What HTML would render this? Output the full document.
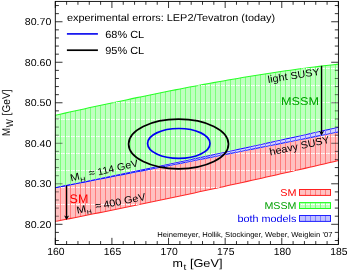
<!DOCTYPE html>
<html><head><meta charset="utf-8"><title>MW-mt</title>
<style>html,body{margin:0;padding:0;background:#fff;overflow:hidden}svg{display:block;will-change:transform}text{font-family:"Liberation Sans",sans-serif;text-rendering:geometricPrecision}</style></head><body>
<svg width="348" height="271" viewBox="0 0 348 271">
<rect width="348" height="271" fill="#fff"/>
<defs>
<clipPath id="cg"><polygon points="55.30,115.25 60.10,114.19 64.90,113.13 69.69,112.07 74.49,111.01 79.29,109.96 84.09,108.91 88.89,107.86 93.69,106.82 98.48,105.78 103.28,104.75 108.08,103.71 112.88,102.69 117.68,101.67 122.48,100.65 127.27,99.64 132.07,98.63 136.87,97.63 141.67,96.64 146.47,95.65 151.27,94.67 156.06,93.69 160.86,92.73 165.66,91.77 170.46,90.81 175.26,89.87 180.06,88.93 184.85,88.00 189.65,87.08 194.45,86.17 199.25,85.27 204.05,84.38 208.85,83.49 213.64,82.62 218.44,81.76 223.24,80.90 228.04,80.06 232.84,79.23 237.64,78.41 242.43,77.60 247.23,76.80 252.03,76.01 256.83,75.24 261.63,74.47 266.43,73.72 271.22,72.99 276.02,72.26 280.82,71.55 285.62,70.85 290.42,70.17 295.22,69.50 300.01,68.84 304.81,68.20 309.61,67.58 314.41,66.97 319.21,66.37 324.01,65.79 328.80,65.22 333.60,64.68 338.40,64.14 338.40,132.40 333.60,133.37 328.80,134.33 324.01,135.29 319.21,136.25 314.41,137.22 309.61,138.18 304.81,139.14 300.01,140.10 295.22,141.06 290.42,142.01 285.62,142.97 280.82,143.93 276.02,144.89 271.22,145.84 266.43,146.80 261.63,147.75 256.83,148.71 252.03,149.66 247.23,150.61 242.43,151.57 237.64,152.52 232.84,153.47 228.04,154.42 223.24,155.37 218.44,156.32 213.64,157.27 208.85,158.22 204.05,159.17 199.25,160.11 194.45,161.06 189.65,162.01 184.85,162.95 180.06,163.90 175.26,164.84 170.46,165.78 165.66,166.73 160.86,167.67 156.06,168.61 151.27,169.55 146.47,170.49 141.67,171.43 136.87,172.37 132.07,173.31 127.27,174.25 122.48,175.19 117.68,176.12 112.88,177.06 108.08,178.00 103.28,178.93 98.48,179.87 93.69,180.80 88.89,181.73 84.09,182.67 79.29,183.60 74.49,184.53 69.69,185.46 64.90,186.39 60.10,187.32 55.30,188.25"/></clipPath>
<clipPath id="cr"><polygon points="55.30,187.27 60.10,186.30 64.90,185.33 69.69,184.35 74.49,183.38 79.29,182.40 84.09,181.42 88.89,180.43 93.69,179.45 98.48,178.46 103.28,177.48 108.08,176.49 112.88,175.50 117.68,174.50 122.48,173.51 127.27,172.51 132.07,171.51 136.87,170.51 141.67,169.51 146.47,168.51 151.27,167.50 156.06,166.49 160.86,165.48 165.66,164.47 170.46,163.46 175.26,162.45 180.06,161.43 184.85,160.41 189.65,159.39 194.45,158.37 199.25,157.35 204.05,156.32 208.85,155.29 213.64,154.27 218.44,153.23 223.24,152.20 228.04,151.17 232.84,150.13 237.64,149.09 242.43,148.05 247.23,147.01 252.03,145.97 256.83,144.92 261.63,143.88 266.43,142.83 271.22,141.78 276.02,140.73 280.82,139.67 285.62,138.62 290.42,137.56 295.22,136.50 300.01,135.44 304.81,134.38 309.61,133.31 314.41,132.24 319.21,131.18 324.01,130.11 328.80,129.03 333.60,127.96 338.40,126.88 338.40,160.59 333.60,161.71 328.80,162.83 324.01,163.95 319.21,165.06 314.41,166.17 309.61,167.28 304.81,168.38 300.01,169.48 295.22,170.58 290.42,171.67 285.62,172.76 280.82,173.85 276.02,174.93 271.22,176.01 266.43,177.09 261.63,178.17 256.83,179.24 252.03,180.31 247.23,181.37 242.43,182.44 237.64,183.50 232.84,184.55 228.04,185.61 223.24,186.66 218.44,187.70 213.64,188.75 208.85,189.79 204.05,190.83 199.25,191.86 194.45,192.89 189.65,193.92 184.85,194.95 180.06,195.97 175.26,196.99 170.46,198.01 165.66,199.02 160.86,200.03 156.06,201.04 151.27,202.04 146.47,203.04 141.67,204.04 136.87,205.03 132.07,206.02 127.27,207.01 122.48,208.00 117.68,208.98 112.88,209.96 108.08,210.93 103.28,211.91 98.48,212.88 93.69,213.84 88.89,214.81 84.09,215.77 79.29,216.72 74.49,217.68 69.69,218.63 64.90,219.58 60.10,220.52 55.30,221.46"/></clipPath>
<clipPath id="cb"><polygon points="55.30,187.27 60.10,186.30 64.90,185.33 69.69,184.35 74.49,183.38 79.29,182.40 84.09,181.42 88.89,180.43 93.69,179.45 98.48,178.46 103.28,177.48 108.08,176.49 112.88,175.50 117.68,174.50 122.48,173.51 127.27,172.51 132.07,171.51 136.87,170.51 141.67,169.51 146.47,168.51 151.27,167.50 156.06,166.49 160.86,165.48 165.66,164.47 170.46,163.46 175.26,162.45 180.06,161.43 184.85,160.41 189.65,159.39 194.45,158.37 199.25,157.35 204.05,156.32 208.85,155.29 213.64,154.27 218.44,153.23 223.24,152.20 228.04,151.17 232.84,150.13 237.64,149.09 242.43,148.05 247.23,147.01 252.03,145.97 256.83,144.92 261.63,143.88 266.43,142.83 271.22,141.78 276.02,140.73 280.82,139.67 285.62,138.62 290.42,137.56 295.22,136.50 300.01,135.44 304.81,134.38 309.61,133.31 314.41,132.24 319.21,131.18 324.01,130.11 328.80,129.03 333.60,127.96 338.40,126.88 338.40,132.40 333.60,133.37 328.80,134.33 324.01,135.29 319.21,136.25 314.41,137.22 309.61,138.18 304.81,139.14 300.01,140.10 295.22,141.06 290.42,142.01 285.62,142.97 280.82,143.93 276.02,144.89 271.22,145.84 266.43,146.80 261.63,147.75 256.83,148.71 252.03,149.66 247.23,150.61 242.43,151.57 237.64,152.52 232.84,153.47 228.04,154.42 223.24,155.37 218.44,156.32 213.64,157.27 208.85,158.22 204.05,159.17 199.25,160.11 194.45,161.06 189.65,162.01 184.85,162.95 180.06,163.90 175.26,164.84 170.46,165.78 165.66,166.73 160.86,167.67 156.06,168.61 151.27,169.55 146.47,170.49 141.67,171.43 136.87,172.37 132.07,173.31 127.27,174.25 122.48,175.19 117.68,176.12 112.88,177.06 108.08,178.00 103.28,178.93 98.48,179.87 93.69,180.80 88.89,181.73 84.09,182.67 79.29,183.60 74.49,184.53 69.69,185.46 64.90,186.39 60.10,187.32 55.30,188.25"/></clipPath>
</defs>
<polygon points="55.30,115.25 60.10,114.19 64.90,113.13 69.69,112.07 74.49,111.01 79.29,109.96 84.09,108.91 88.89,107.86 93.69,106.82 98.48,105.78 103.28,104.75 108.08,103.71 112.88,102.69 117.68,101.67 122.48,100.65 127.27,99.64 132.07,98.63 136.87,97.63 141.67,96.64 146.47,95.65 151.27,94.67 156.06,93.69 160.86,92.73 165.66,91.77 170.46,90.81 175.26,89.87 180.06,88.93 184.85,88.00 189.65,87.08 194.45,86.17 199.25,85.27 204.05,84.38 208.85,83.49 213.64,82.62 218.44,81.76 223.24,80.90 228.04,80.06 232.84,79.23 237.64,78.41 242.43,77.60 247.23,76.80 252.03,76.01 256.83,75.24 261.63,74.47 266.43,73.72 271.22,72.99 276.02,72.26 280.82,71.55 285.62,70.85 290.42,70.17 295.22,69.50 300.01,68.84 304.81,68.20 309.61,67.58 314.41,66.97 319.21,66.37 324.01,65.79 328.80,65.22 333.60,64.68 338.40,64.14 338.40,132.40 333.60,133.37 328.80,134.33 324.01,135.29 319.21,136.25 314.41,137.22 309.61,138.18 304.81,139.14 300.01,140.10 295.22,141.06 290.42,142.01 285.62,142.97 280.82,143.93 276.02,144.89 271.22,145.84 266.43,146.80 261.63,147.75 256.83,148.71 252.03,149.66 247.23,150.61 242.43,151.57 237.64,152.52 232.84,153.47 228.04,154.42 223.24,155.37 218.44,156.32 213.64,157.27 208.85,158.22 204.05,159.17 199.25,160.11 194.45,161.06 189.65,162.01 184.85,162.95 180.06,163.90 175.26,164.84 170.46,165.78 165.66,166.73 160.86,167.67 156.06,168.61 151.27,169.55 146.47,170.49 141.67,171.43 136.87,172.37 132.07,173.31 127.27,174.25 122.48,175.19 117.68,176.12 112.88,177.06 108.08,178.00 103.28,178.93 98.48,179.87 93.69,180.80 88.89,181.73 84.09,182.67 79.29,183.60 74.49,184.53 69.69,185.46 64.90,186.39 60.10,187.32 55.30,188.25" fill="#c0ffc0"/>
<g clip-path="url(#cg)" stroke="#7cff7c" stroke-width="1.0"><line x1="55.50" y1="60" x2="55.50" y2="192"/><line x1="60.50" y1="60" x2="60.50" y2="192"/><line x1="65.50" y1="60" x2="65.50" y2="192"/><line x1="70.50" y1="60" x2="70.50" y2="192"/><line x1="75.50" y1="60" x2="75.50" y2="192"/><line x1="80.50" y1="60" x2="80.50" y2="192"/><line x1="85.50" y1="60" x2="85.50" y2="192"/><line x1="90.50" y1="60" x2="90.50" y2="192"/><line x1="95.50" y1="60" x2="95.50" y2="192"/><line x1="100.50" y1="60" x2="100.50" y2="192"/><line x1="105.50" y1="60" x2="105.50" y2="192"/><line x1="110.50" y1="60" x2="110.50" y2="192"/><line x1="115.50" y1="60" x2="115.50" y2="192"/><line x1="120.50" y1="60" x2="120.50" y2="192"/><line x1="125.50" y1="60" x2="125.50" y2="192"/><line x1="130.50" y1="60" x2="130.50" y2="192"/><line x1="135.50" y1="60" x2="135.50" y2="192"/><line x1="140.50" y1="60" x2="140.50" y2="192"/><line x1="145.50" y1="60" x2="145.50" y2="192"/><line x1="150.50" y1="60" x2="150.50" y2="192"/><line x1="155.50" y1="60" x2="155.50" y2="192"/><line x1="160.50" y1="60" x2="160.50" y2="192"/><line x1="165.50" y1="60" x2="165.50" y2="192"/><line x1="170.50" y1="60" x2="170.50" y2="192"/><line x1="175.50" y1="60" x2="175.50" y2="192"/><line x1="180.50" y1="60" x2="180.50" y2="192"/><line x1="185.50" y1="60" x2="185.50" y2="192"/><line x1="190.50" y1="60" x2="190.50" y2="192"/><line x1="195.50" y1="60" x2="195.50" y2="192"/><line x1="200.50" y1="60" x2="200.50" y2="192"/><line x1="205.50" y1="60" x2="205.50" y2="192"/><line x1="210.50" y1="60" x2="210.50" y2="192"/><line x1="215.50" y1="60" x2="215.50" y2="192"/><line x1="220.50" y1="60" x2="220.50" y2="192"/><line x1="225.50" y1="60" x2="225.50" y2="192"/><line x1="230.50" y1="60" x2="230.50" y2="192"/><line x1="235.50" y1="60" x2="235.50" y2="192"/><line x1="240.50" y1="60" x2="240.50" y2="192"/><line x1="245.50" y1="60" x2="245.50" y2="192"/><line x1="250.50" y1="60" x2="250.50" y2="192"/><line x1="255.50" y1="60" x2="255.50" y2="192"/><line x1="260.50" y1="60" x2="260.50" y2="192"/><line x1="265.50" y1="60" x2="265.50" y2="192"/><line x1="270.50" y1="60" x2="270.50" y2="192"/><line x1="275.50" y1="60" x2="275.50" y2="192"/><line x1="280.50" y1="60" x2="280.50" y2="192"/><line x1="285.50" y1="60" x2="285.50" y2="192"/><line x1="290.50" y1="60" x2="290.50" y2="192"/><line x1="295.50" y1="60" x2="295.50" y2="192"/><line x1="300.50" y1="60" x2="300.50" y2="192"/><line x1="305.50" y1="60" x2="305.50" y2="192"/><line x1="310.50" y1="60" x2="310.50" y2="192"/><line x1="315.50" y1="60" x2="315.50" y2="192"/><line x1="320.50" y1="60" x2="320.50" y2="192"/><line x1="325.50" y1="60" x2="325.50" y2="192"/><line x1="330.50" y1="60" x2="330.50" y2="192"/><line x1="335.50" y1="60" x2="335.50" y2="192"/></g>
<polyline points="55.30,115.25 60.10,114.19 64.90,113.13 69.69,112.07 74.49,111.01 79.29,109.96 84.09,108.91 88.89,107.86 93.69,106.82 98.48,105.78 103.28,104.75 108.08,103.71 112.88,102.69 117.68,101.67 122.48,100.65 127.27,99.64 132.07,98.63 136.87,97.63 141.67,96.64 146.47,95.65 151.27,94.67 156.06,93.69 160.86,92.73 165.66,91.77 170.46,90.81 175.26,89.87 180.06,88.93 184.85,88.00 189.65,87.08 194.45,86.17 199.25,85.27 204.05,84.38 208.85,83.49 213.64,82.62 218.44,81.76 223.24,80.90 228.04,80.06 232.84,79.23 237.64,78.41 242.43,77.60 247.23,76.80 252.03,76.01 256.83,75.24 261.63,74.47 266.43,73.72 271.22,72.99 276.02,72.26 280.82,71.55 285.62,70.85 290.42,70.17 295.22,69.50 300.01,68.84 304.81,68.20 309.61,67.58 314.41,66.97 319.21,66.37 324.01,65.79 328.80,65.22 333.60,64.68 338.40,64.14" fill="none" stroke="#28ff28" stroke-width="1.05"/>
<polygon points="55.30,187.27 60.10,186.30 64.90,185.33 69.69,184.35 74.49,183.38 79.29,182.40 84.09,181.42 88.89,180.43 93.69,179.45 98.48,178.46 103.28,177.48 108.08,176.49 112.88,175.50 117.68,174.50 122.48,173.51 127.27,172.51 132.07,171.51 136.87,170.51 141.67,169.51 146.47,168.51 151.27,167.50 156.06,166.49 160.86,165.48 165.66,164.47 170.46,163.46 175.26,162.45 180.06,161.43 184.85,160.41 189.65,159.39 194.45,158.37 199.25,157.35 204.05,156.32 208.85,155.29 213.64,154.27 218.44,153.23 223.24,152.20 228.04,151.17 232.84,150.13 237.64,149.09 242.43,148.05 247.23,147.01 252.03,145.97 256.83,144.92 261.63,143.88 266.43,142.83 271.22,141.78 276.02,140.73 280.82,139.67 285.62,138.62 290.42,137.56 295.22,136.50 300.01,135.44 304.81,134.38 309.61,133.31 314.41,132.24 319.21,131.18 324.01,130.11 328.80,129.03 333.60,127.96 338.40,126.88 338.40,160.59 333.60,161.71 328.80,162.83 324.01,163.95 319.21,165.06 314.41,166.17 309.61,167.28 304.81,168.38 300.01,169.48 295.22,170.58 290.42,171.67 285.62,172.76 280.82,173.85 276.02,174.93 271.22,176.01 266.43,177.09 261.63,178.17 256.83,179.24 252.03,180.31 247.23,181.37 242.43,182.44 237.64,183.50 232.84,184.55 228.04,185.61 223.24,186.66 218.44,187.70 213.64,188.75 208.85,189.79 204.05,190.83 199.25,191.86 194.45,192.89 189.65,193.92 184.85,194.95 180.06,195.97 175.26,196.99 170.46,198.01 165.66,199.02 160.86,200.03 156.06,201.04 151.27,202.04 146.47,203.04 141.67,204.04 136.87,205.03 132.07,206.02 127.27,207.01 122.48,208.00 117.68,208.98 112.88,209.96 108.08,210.93 103.28,211.91 98.48,212.88 93.69,213.84 88.89,214.81 84.09,215.77 79.29,216.72 74.49,217.68 69.69,218.63 64.90,219.58 60.10,220.52 55.30,221.46" fill="#ffc0c0"/>
<g clip-path="url(#cr)" stroke="#ff7c7c" stroke-width="1.0"><line x1="55.50" y1="125" x2="55.50" y2="224"/><line x1="60.50" y1="125" x2="60.50" y2="224"/><line x1="65.50" y1="125" x2="65.50" y2="224"/><line x1="70.50" y1="125" x2="70.50" y2="224"/><line x1="75.50" y1="125" x2="75.50" y2="224"/><line x1="80.50" y1="125" x2="80.50" y2="224"/><line x1="85.50" y1="125" x2="85.50" y2="224"/><line x1="90.50" y1="125" x2="90.50" y2="224"/><line x1="95.50" y1="125" x2="95.50" y2="224"/><line x1="100.50" y1="125" x2="100.50" y2="224"/><line x1="105.50" y1="125" x2="105.50" y2="224"/><line x1="110.50" y1="125" x2="110.50" y2="224"/><line x1="115.50" y1="125" x2="115.50" y2="224"/><line x1="120.50" y1="125" x2="120.50" y2="224"/><line x1="125.50" y1="125" x2="125.50" y2="224"/><line x1="130.50" y1="125" x2="130.50" y2="224"/><line x1="135.50" y1="125" x2="135.50" y2="224"/><line x1="140.50" y1="125" x2="140.50" y2="224"/><line x1="145.50" y1="125" x2="145.50" y2="224"/><line x1="150.50" y1="125" x2="150.50" y2="224"/><line x1="155.50" y1="125" x2="155.50" y2="224"/><line x1="160.50" y1="125" x2="160.50" y2="224"/><line x1="165.50" y1="125" x2="165.50" y2="224"/><line x1="170.50" y1="125" x2="170.50" y2="224"/><line x1="175.50" y1="125" x2="175.50" y2="224"/><line x1="180.50" y1="125" x2="180.50" y2="224"/><line x1="185.50" y1="125" x2="185.50" y2="224"/><line x1="190.50" y1="125" x2="190.50" y2="224"/><line x1="195.50" y1="125" x2="195.50" y2="224"/><line x1="200.50" y1="125" x2="200.50" y2="224"/><line x1="205.50" y1="125" x2="205.50" y2="224"/><line x1="210.50" y1="125" x2="210.50" y2="224"/><line x1="215.50" y1="125" x2="215.50" y2="224"/><line x1="220.50" y1="125" x2="220.50" y2="224"/><line x1="225.50" y1="125" x2="225.50" y2="224"/><line x1="230.50" y1="125" x2="230.50" y2="224"/><line x1="235.50" y1="125" x2="235.50" y2="224"/><line x1="240.50" y1="125" x2="240.50" y2="224"/><line x1="245.50" y1="125" x2="245.50" y2="224"/><line x1="250.50" y1="125" x2="250.50" y2="224"/><line x1="255.50" y1="125" x2="255.50" y2="224"/><line x1="260.50" y1="125" x2="260.50" y2="224"/><line x1="265.50" y1="125" x2="265.50" y2="224"/><line x1="270.50" y1="125" x2="270.50" y2="224"/><line x1="275.50" y1="125" x2="275.50" y2="224"/><line x1="280.50" y1="125" x2="280.50" y2="224"/><line x1="285.50" y1="125" x2="285.50" y2="224"/><line x1="290.50" y1="125" x2="290.50" y2="224"/><line x1="295.50" y1="125" x2="295.50" y2="224"/><line x1="300.50" y1="125" x2="300.50" y2="224"/><line x1="305.50" y1="125" x2="305.50" y2="224"/><line x1="310.50" y1="125" x2="310.50" y2="224"/><line x1="315.50" y1="125" x2="315.50" y2="224"/><line x1="320.50" y1="125" x2="320.50" y2="224"/><line x1="325.50" y1="125" x2="325.50" y2="224"/><line x1="330.50" y1="125" x2="330.50" y2="224"/><line x1="335.50" y1="125" x2="335.50" y2="224"/></g>
<polyline points="55.30,221.46 60.10,220.52 64.90,219.58 69.69,218.63 74.49,217.68 79.29,216.72 84.09,215.77 88.89,214.81 93.69,213.84 98.48,212.88 103.28,211.91 108.08,210.93 112.88,209.96 117.68,208.98 122.48,208.00 127.27,207.01 132.07,206.02 136.87,205.03 141.67,204.04 146.47,203.04 151.27,202.04 156.06,201.04 160.86,200.03 165.66,199.02 170.46,198.01 175.26,196.99 180.06,195.97 184.85,194.95 189.65,193.92 194.45,192.89 199.25,191.86 204.05,190.83 208.85,189.79 213.64,188.75 218.44,187.70 223.24,186.66 228.04,185.61 232.84,184.55 237.64,183.50 242.43,182.44 247.23,181.37 252.03,180.31 256.83,179.24 261.63,178.17 266.43,177.09 271.22,176.01 276.02,174.93 280.82,173.85 285.62,172.76 290.42,171.67 295.22,170.58 300.01,169.48 304.81,168.38 309.61,167.28 314.41,166.17 319.21,165.06 324.01,163.95 328.80,162.83 333.60,161.71 338.40,160.59" fill="none" stroke="#ff2828" stroke-width="1.05"/>
<g clip-path="url(#cg)" stroke="#fff" stroke-width="1" stroke-dasharray="1.3 0.3 2.1 1.3">
<line x1="56" y1="68.5" x2="338.4" y2="68.5"/>
<line x1="56" y1="85.5" x2="338.4" y2="85.5"/>
<line x1="56" y1="102.5" x2="338.4" y2="102.5"/>
<line x1="56" y1="119.5" x2="338.4" y2="119.5"/>
<line x1="56" y1="136.5" x2="338.4" y2="136.5"/>
<line x1="56" y1="153.5" x2="338.4" y2="153.5"/>
<line x1="56" y1="170.5" x2="338.4" y2="170.5"/>
<line x1="56" y1="187.5" x2="338.4" y2="187.5"/>
</g>
<g clip-path="url(#cr)" stroke="#fff" stroke-width="1" stroke-dasharray="1.3 0.3 2.1 1.3">
<line x1="56" y1="119.5" x2="338.4" y2="119.5"/>
<line x1="56" y1="136.5" x2="338.4" y2="136.5"/>
<line x1="56" y1="153.5" x2="338.4" y2="153.5"/>
<line x1="56" y1="170.5" x2="338.4" y2="170.5"/>
<line x1="56" y1="187.5" x2="338.4" y2="187.5"/>
<line x1="56" y1="204.5" x2="338.4" y2="204.5"/>
<line x1="56" y1="221.5" x2="338.4" y2="221.5"/>
</g>
<polygon points="55.30,187.27 60.10,186.30 64.90,185.33 69.69,184.35 74.49,183.38 79.29,182.40 84.09,181.42 88.89,180.43 93.69,179.45 98.48,178.46 103.28,177.48 108.08,176.49 112.88,175.50 117.68,174.50 122.48,173.51 127.27,172.51 132.07,171.51 136.87,170.51 141.67,169.51 146.47,168.51 151.27,167.50 156.06,166.49 160.86,165.48 165.66,164.47 170.46,163.46 175.26,162.45 180.06,161.43 184.85,160.41 189.65,159.39 194.45,158.37 199.25,157.35 204.05,156.32 208.85,155.29 213.64,154.27 218.44,153.23 223.24,152.20 228.04,151.17 232.84,150.13 237.64,149.09 242.43,148.05 247.23,147.01 252.03,145.97 256.83,144.92 261.63,143.88 266.43,142.83 271.22,141.78 276.02,140.73 280.82,139.67 285.62,138.62 290.42,137.56 295.22,136.50 300.01,135.44 304.81,134.38 309.61,133.31 314.41,132.24 319.21,131.18 324.01,130.11 328.80,129.03 333.60,127.96 338.40,126.88 338.40,132.40 333.60,133.37 328.80,134.33 324.01,135.29 319.21,136.25 314.41,137.22 309.61,138.18 304.81,139.14 300.01,140.10 295.22,141.06 290.42,142.01 285.62,142.97 280.82,143.93 276.02,144.89 271.22,145.84 266.43,146.80 261.63,147.75 256.83,148.71 252.03,149.66 247.23,150.61 242.43,151.57 237.64,152.52 232.84,153.47 228.04,154.42 223.24,155.37 218.44,156.32 213.64,157.27 208.85,158.22 204.05,159.17 199.25,160.11 194.45,161.06 189.65,162.01 184.85,162.95 180.06,163.90 175.26,164.84 170.46,165.78 165.66,166.73 160.86,167.67 156.06,168.61 151.27,169.55 146.47,170.49 141.67,171.43 136.87,172.37 132.07,173.31 127.27,174.25 122.48,175.19 117.68,176.12 112.88,177.06 108.08,178.00 103.28,178.93 98.48,179.87 93.69,180.80 88.89,181.73 84.09,182.67 79.29,183.60 74.49,184.53 69.69,185.46 64.90,186.39 60.10,187.32 55.30,188.25" fill="#d4d4ff"/>
<g clip-path="url(#cb)"><polyline points="55.30,187.27 60.10,186.30 64.90,185.33 69.69,184.35 74.49,183.38 79.29,182.40 84.09,181.42 88.89,180.43 93.69,179.45 98.48,178.46 103.28,177.48 108.08,176.49 112.88,175.50 117.68,174.50 122.48,173.51 127.27,172.51 132.07,171.51 136.87,170.51 141.67,169.51 146.47,168.51 151.27,167.50 156.06,166.49 160.86,165.48 165.66,164.47 170.46,163.46 175.26,162.45 180.06,161.43 184.85,160.41 189.65,159.39 194.45,158.37 199.25,157.35 204.05,156.32 208.85,155.29 213.64,154.27 218.44,153.23 223.24,152.20 228.04,151.17 232.84,150.13 237.64,149.09 242.43,148.05 247.23,147.01 252.03,145.97 256.83,144.92 261.63,143.88 266.43,142.83 271.22,141.78 276.02,140.73 280.82,139.67 285.62,138.62 290.42,137.56 295.22,136.50 300.01,135.44 304.81,134.38 309.61,133.31 314.41,132.24 319.21,131.18 324.01,130.11 328.80,129.03 333.60,127.96 338.40,126.88" fill="none" stroke="#1010ff" stroke-width="1.8"/>
<polyline points="55.30,188.25 60.10,187.32 64.90,186.39 69.69,185.46 74.49,184.53 79.29,183.60 84.09,182.67 88.89,181.73 93.69,180.80 98.48,179.87 103.28,178.93 108.08,178.00 112.88,177.06 117.68,176.12 122.48,175.19 127.27,174.25 132.07,173.31 136.87,172.37 141.67,171.43 146.47,170.49 151.27,169.55 156.06,168.61 160.86,167.67 165.66,166.73 170.46,165.78 175.26,164.84 180.06,163.90 184.85,162.95 189.65,162.01 194.45,161.06 199.25,160.11 204.05,159.17 208.85,158.22 213.64,157.27 218.44,156.32 223.24,155.37 228.04,154.42 232.84,153.47 237.64,152.52 242.43,151.57 247.23,150.61 252.03,149.66 256.83,148.71 261.63,147.75 266.43,146.80 271.22,145.84 276.02,144.89 280.82,143.93 285.62,142.97 290.42,142.01 295.22,141.06 300.01,140.10 304.81,139.14 309.61,138.18 314.41,137.22 319.21,136.25 324.01,135.29 328.80,134.33 333.60,133.37 338.40,132.40" fill="none" stroke="#1010ff" stroke-width="1.8"/></g>
<g clip-path="url(#cb)" stroke="#7878ff" stroke-width="1.0"><line x1="55.50" y1="120" x2="55.50" y2="192"/><line x1="60.50" y1="120" x2="60.50" y2="192"/><line x1="65.50" y1="120" x2="65.50" y2="192"/><line x1="70.50" y1="120" x2="70.50" y2="192"/><line x1="75.50" y1="120" x2="75.50" y2="192"/><line x1="80.50" y1="120" x2="80.50" y2="192"/><line x1="85.50" y1="120" x2="85.50" y2="192"/><line x1="90.50" y1="120" x2="90.50" y2="192"/><line x1="95.50" y1="120" x2="95.50" y2="192"/><line x1="100.50" y1="120" x2="100.50" y2="192"/><line x1="105.50" y1="120" x2="105.50" y2="192"/><line x1="110.50" y1="120" x2="110.50" y2="192"/><line x1="115.50" y1="120" x2="115.50" y2="192"/><line x1="120.50" y1="120" x2="120.50" y2="192"/><line x1="125.50" y1="120" x2="125.50" y2="192"/><line x1="130.50" y1="120" x2="130.50" y2="192"/><line x1="135.50" y1="120" x2="135.50" y2="192"/><line x1="140.50" y1="120" x2="140.50" y2="192"/><line x1="145.50" y1="120" x2="145.50" y2="192"/><line x1="150.50" y1="120" x2="150.50" y2="192"/><line x1="155.50" y1="120" x2="155.50" y2="192"/><line x1="160.50" y1="120" x2="160.50" y2="192"/><line x1="165.50" y1="120" x2="165.50" y2="192"/><line x1="170.50" y1="120" x2="170.50" y2="192"/><line x1="175.50" y1="120" x2="175.50" y2="192"/><line x1="180.50" y1="120" x2="180.50" y2="192"/><line x1="185.50" y1="120" x2="185.50" y2="192"/><line x1="190.50" y1="120" x2="190.50" y2="192"/><line x1="195.50" y1="120" x2="195.50" y2="192"/><line x1="200.50" y1="120" x2="200.50" y2="192"/><line x1="205.50" y1="120" x2="205.50" y2="192"/><line x1="210.50" y1="120" x2="210.50" y2="192"/><line x1="215.50" y1="120" x2="215.50" y2="192"/><line x1="220.50" y1="120" x2="220.50" y2="192"/><line x1="225.50" y1="120" x2="225.50" y2="192"/><line x1="230.50" y1="120" x2="230.50" y2="192"/><line x1="235.50" y1="120" x2="235.50" y2="192"/><line x1="240.50" y1="120" x2="240.50" y2="192"/><line x1="245.50" y1="120" x2="245.50" y2="192"/><line x1="250.50" y1="120" x2="250.50" y2="192"/><line x1="255.50" y1="120" x2="255.50" y2="192"/><line x1="260.50" y1="120" x2="260.50" y2="192"/><line x1="265.50" y1="120" x2="265.50" y2="192"/><line x1="270.50" y1="120" x2="270.50" y2="192"/><line x1="275.50" y1="120" x2="275.50" y2="192"/><line x1="280.50" y1="120" x2="280.50" y2="192"/><line x1="285.50" y1="120" x2="285.50" y2="192"/><line x1="290.50" y1="120" x2="290.50" y2="192"/><line x1="295.50" y1="120" x2="295.50" y2="192"/><line x1="300.50" y1="120" x2="300.50" y2="192"/><line x1="305.50" y1="120" x2="305.50" y2="192"/><line x1="310.50" y1="120" x2="310.50" y2="192"/><line x1="315.50" y1="120" x2="315.50" y2="192"/><line x1="320.50" y1="120" x2="320.50" y2="192"/><line x1="325.50" y1="120" x2="325.50" y2="192"/><line x1="330.50" y1="120" x2="330.50" y2="192"/><line x1="335.50" y1="120" x2="335.50" y2="192"/></g>
<ellipse cx="178.55" cy="144.0" rx="49.95" ry="24.9" fill="none" stroke="#000" stroke-width="1.7"/>
<ellipse cx="178.8" cy="143.45" rx="31.2" ry="14.95" fill="none" stroke="#0000f4" stroke-width="1.7"/>
<line x1="66.6" y1="185.6" x2="66.6" y2="217.4" stroke="#000" stroke-width="1.3"/><polygon points="64.1,215.5 66.6,216.70000000000002 69.1,215.5 66.6,219.9" fill="#000"/>
<line x1="321.6" y1="65.8" x2="321.6" y2="133.0" stroke="#000" stroke-width="1.3"/><polygon points="319.1,131.1 321.6,132.3 324.1,131.1 321.6,135.5" fill="#000"/>
<rect x="55.3" y="1.4" width="283.09999999999997" height="243.04999999999998" fill="none" stroke="#000" stroke-width="0.9"/>
<g stroke="#000" stroke-width="0.8"><line x1="55.30" y1="244.45" x2="55.30" y2="237.85"/><line x1="55.30" y1="1.4" x2="55.30" y2="8.0"/><line x1="66.62" y1="244.45" x2="66.62" y2="241.04999999999998"/><line x1="66.62" y1="1.4" x2="66.62" y2="4.8"/><line x1="77.95" y1="244.45" x2="77.95" y2="241.04999999999998"/><line x1="77.95" y1="1.4" x2="77.95" y2="4.8"/><line x1="89.27" y1="244.45" x2="89.27" y2="241.04999999999998"/><line x1="89.27" y1="1.4" x2="89.27" y2="4.8"/><line x1="100.60" y1="244.45" x2="100.60" y2="241.04999999999998"/><line x1="100.60" y1="1.4" x2="100.60" y2="4.8"/><line x1="111.92" y1="244.45" x2="111.92" y2="237.85"/><line x1="111.92" y1="1.4" x2="111.92" y2="8.0"/><line x1="123.24" y1="244.45" x2="123.24" y2="241.04999999999998"/><line x1="123.24" y1="1.4" x2="123.24" y2="4.8"/><line x1="134.57" y1="244.45" x2="134.57" y2="241.04999999999998"/><line x1="134.57" y1="1.4" x2="134.57" y2="4.8"/><line x1="145.89" y1="244.45" x2="145.89" y2="241.04999999999998"/><line x1="145.89" y1="1.4" x2="145.89" y2="4.8"/><line x1="157.22" y1="244.45" x2="157.22" y2="241.04999999999998"/><line x1="157.22" y1="1.4" x2="157.22" y2="4.8"/><line x1="168.54" y1="244.45" x2="168.54" y2="237.85"/><line x1="168.54" y1="1.4" x2="168.54" y2="8.0"/><line x1="179.86" y1="244.45" x2="179.86" y2="241.04999999999998"/><line x1="179.86" y1="1.4" x2="179.86" y2="4.8"/><line x1="191.19" y1="244.45" x2="191.19" y2="241.04999999999998"/><line x1="191.19" y1="1.4" x2="191.19" y2="4.8"/><line x1="202.51" y1="244.45" x2="202.51" y2="241.04999999999998"/><line x1="202.51" y1="1.4" x2="202.51" y2="4.8"/><line x1="213.84" y1="244.45" x2="213.84" y2="241.04999999999998"/><line x1="213.84" y1="1.4" x2="213.84" y2="4.8"/><line x1="225.16" y1="244.45" x2="225.16" y2="237.85"/><line x1="225.16" y1="1.4" x2="225.16" y2="8.0"/><line x1="236.48" y1="244.45" x2="236.48" y2="241.04999999999998"/><line x1="236.48" y1="1.4" x2="236.48" y2="4.8"/><line x1="247.81" y1="244.45" x2="247.81" y2="241.04999999999998"/><line x1="247.81" y1="1.4" x2="247.81" y2="4.8"/><line x1="259.13" y1="244.45" x2="259.13" y2="241.04999999999998"/><line x1="259.13" y1="1.4" x2="259.13" y2="4.8"/><line x1="270.46" y1="244.45" x2="270.46" y2="241.04999999999998"/><line x1="270.46" y1="1.4" x2="270.46" y2="4.8"/><line x1="281.78" y1="244.45" x2="281.78" y2="237.85"/><line x1="281.78" y1="1.4" x2="281.78" y2="8.0"/><line x1="293.10" y1="244.45" x2="293.10" y2="241.04999999999998"/><line x1="293.10" y1="1.4" x2="293.10" y2="4.8"/><line x1="304.43" y1="244.45" x2="304.43" y2="241.04999999999998"/><line x1="304.43" y1="1.4" x2="304.43" y2="4.8"/><line x1="315.75" y1="244.45" x2="315.75" y2="241.04999999999998"/><line x1="315.75" y1="1.4" x2="315.75" y2="4.8"/><line x1="327.08" y1="244.45" x2="327.08" y2="241.04999999999998"/><line x1="327.08" y1="1.4" x2="327.08" y2="4.8"/><line x1="338.40" y1="244.45" x2="338.40" y2="237.85"/><line x1="338.40" y1="1.4" x2="338.40" y2="8.0"/><line x1="55.3" y1="240.50" x2="58.9" y2="240.50"/><line x1="338.4" y1="240.50" x2="334.79999999999995" y2="240.50"/><line x1="55.3" y1="232.40" x2="58.9" y2="232.40"/><line x1="338.4" y1="232.40" x2="334.79999999999995" y2="232.40"/><line x1="55.3" y1="224.30" x2="62.5" y2="224.30"/><line x1="338.4" y1="224.30" x2="331.2" y2="224.30"/><line x1="55.3" y1="216.19" x2="58.9" y2="216.19" stroke-opacity="0.6"/><line x1="338.4" y1="216.19" x2="334.79999999999995" y2="216.19"/><line x1="55.3" y1="208.09" x2="58.9" y2="208.09" stroke-opacity="0.6"/><line x1="338.4" y1="208.09" x2="334.79999999999995" y2="208.09"/><line x1="55.3" y1="199.99" x2="58.9" y2="199.99" stroke-opacity="0.6"/><line x1="338.4" y1="199.99" x2="334.79999999999995" y2="199.99"/><line x1="55.3" y1="191.89" x2="58.9" y2="191.89" stroke-opacity="0.6"/><line x1="338.4" y1="191.89" x2="334.79999999999995" y2="191.89"/><line x1="55.3" y1="183.79" x2="62.5" y2="183.79" stroke-opacity="0.6"/><line x1="338.4" y1="183.79" x2="331.2" y2="183.79"/><line x1="55.3" y1="175.69" x2="58.9" y2="175.69" stroke-opacity="0.6"/><line x1="338.4" y1="175.69" x2="334.79999999999995" y2="175.69"/><line x1="55.3" y1="167.58" x2="58.9" y2="167.58" stroke-opacity="0.6"/><line x1="338.4" y1="167.58" x2="334.79999999999995" y2="167.58"/><line x1="55.3" y1="159.48" x2="58.9" y2="159.48" stroke-opacity="0.6"/><line x1="338.4" y1="159.48" x2="334.79999999999995" y2="159.48" stroke-opacity="0.7"/><line x1="55.3" y1="151.38" x2="58.9" y2="151.38" stroke-opacity="0.6"/><line x1="338.4" y1="151.38" x2="334.79999999999995" y2="151.38" stroke-opacity="0.7"/><line x1="55.3" y1="143.28" x2="62.5" y2="143.28" stroke-opacity="0.6"/><line x1="338.4" y1="143.28" x2="331.2" y2="143.28" stroke-opacity="0.7"/><line x1="55.3" y1="135.18" x2="58.9" y2="135.18" stroke-opacity="0.6"/><line x1="338.4" y1="135.18" x2="334.79999999999995" y2="135.18" stroke-opacity="0.7"/><line x1="55.3" y1="127.08" x2="58.9" y2="127.08" stroke-opacity="0.6"/><line x1="338.4" y1="127.08" x2="334.79999999999995" y2="127.08" stroke-opacity="0.7"/><line x1="55.3" y1="118.97" x2="58.9" y2="118.97" stroke-opacity="0.6"/><line x1="338.4" y1="118.97" x2="334.79999999999995" y2="118.97" stroke-opacity="0.7"/><line x1="55.3" y1="110.87" x2="58.9" y2="110.87"/><line x1="338.4" y1="110.87" x2="334.79999999999995" y2="110.87" stroke-opacity="0.7"/><line x1="55.3" y1="102.77" x2="62.5" y2="102.77"/><line x1="338.4" y1="102.77" x2="331.2" y2="102.77" stroke-opacity="0.7"/><line x1="55.3" y1="94.67" x2="58.9" y2="94.67"/><line x1="338.4" y1="94.67" x2="334.79999999999995" y2="94.67" stroke-opacity="0.7"/><line x1="55.3" y1="86.57" x2="58.9" y2="86.57"/><line x1="338.4" y1="86.57" x2="334.79999999999995" y2="86.57" stroke-opacity="0.7"/><line x1="55.3" y1="78.47" x2="58.9" y2="78.47"/><line x1="338.4" y1="78.47" x2="334.79999999999995" y2="78.47" stroke-opacity="0.7"/><line x1="55.3" y1="70.36" x2="58.9" y2="70.36"/><line x1="338.4" y1="70.36" x2="334.79999999999995" y2="70.36" stroke-opacity="0.7"/><line x1="55.3" y1="62.26" x2="62.5" y2="62.26"/><line x1="338.4" y1="62.26" x2="331.2" y2="62.26"/><line x1="55.3" y1="54.16" x2="58.9" y2="54.16"/><line x1="338.4" y1="54.16" x2="334.79999999999995" y2="54.16"/><line x1="55.3" y1="46.06" x2="58.9" y2="46.06"/><line x1="338.4" y1="46.06" x2="334.79999999999995" y2="46.06"/><line x1="55.3" y1="37.96" x2="58.9" y2="37.96"/><line x1="338.4" y1="37.96" x2="334.79999999999995" y2="37.96"/><line x1="55.3" y1="29.86" x2="58.9" y2="29.86"/><line x1="338.4" y1="29.86" x2="334.79999999999995" y2="29.86"/><line x1="55.3" y1="21.75" x2="62.5" y2="21.75"/><line x1="338.4" y1="21.75" x2="331.2" y2="21.75"/><line x1="55.3" y1="13.65" x2="58.9" y2="13.65"/><line x1="338.4" y1="13.65" x2="334.79999999999995" y2="13.65"/><line x1="55.3" y1="5.55" x2="58.9" y2="5.55"/><line x1="338.4" y1="5.55" x2="334.79999999999995" y2="5.55"/></g>
<text x="55.9" y="255.3" font-size="10.3" text-anchor="middle" fill="#000" textLength="17.3" lengthAdjust="spacingAndGlyphs">160</text>
<text x="112.51999999999998" y="255.3" font-size="10.3" text-anchor="middle" fill="#000" textLength="17.3" lengthAdjust="spacingAndGlyphs">165</text>
<text x="169.13999999999996" y="255.3" font-size="10.3" text-anchor="middle" fill="#000" textLength="17.3" lengthAdjust="spacingAndGlyphs">170</text>
<text x="225.75999999999996" y="255.3" font-size="10.3" text-anchor="middle" fill="#000" textLength="17.3" lengthAdjust="spacingAndGlyphs">175</text>
<text x="282.38" y="255.3" font-size="10.3" text-anchor="middle" fill="#000" textLength="17.3" lengthAdjust="spacingAndGlyphs">180</text>
<text x="339.0" y="255.3" font-size="10.3" text-anchor="middle" fill="#000" textLength="17.3" lengthAdjust="spacingAndGlyphs">185</text>
<text x="51.4" y="227.64583333333445" font-size="10.0" text-anchor="end" fill="#000" textLength="26.6" lengthAdjust="spacingAndGlyphs">80.20</text>
<text x="51.4" y="187.13750000000343" font-size="10.0" text-anchor="end" fill="#000" textLength="26.6" lengthAdjust="spacingAndGlyphs">80.30</text>
<text x="51.4" y="146.62916666666666" font-size="10.0" text-anchor="end" fill="#000" textLength="26.6" lengthAdjust="spacingAndGlyphs">80.40</text>
<text x="51.4" y="106.12083333333563" font-size="10.0" text-anchor="end" fill="#000" textLength="26.6" lengthAdjust="spacingAndGlyphs">80.50</text>
<text x="51.4" y="65.6125000000046" font-size="10.0" text-anchor="end" fill="#000" textLength="26.6" lengthAdjust="spacingAndGlyphs">80.60</text>
<text x="51.4" y="25.104166666667805" font-size="10.0" text-anchor="end" fill="#000" textLength="26.6" lengthAdjust="spacingAndGlyphs">80.70</text>
<g transform="translate(9.75,136.1) rotate(-90)"><text x="0" y="0" font-size="11.2" text-anchor="start" fill="#000" textLength="8.1" lengthAdjust="spacingAndGlyphs">M</text><text x="8.9" y="3.5" font-size="10" text-anchor="start" fill="#000" textLength="8.1" lengthAdjust="spacingAndGlyphs">W</text><text x="20.7" y="0" font-size="11.2" text-anchor="start" fill="#000" textLength="25.9" lengthAdjust="spacingAndGlyphs">[GeV]</text></g>
<text x="172.5" y="266.5" font-size="11.4" text-anchor="start" fill="#000" textLength="10.4" lengthAdjust="spacingAndGlyphs">m</text>
<text x="183.6" y="270.0" font-size="8.4" text-anchor="start" fill="#000" textLength="2.8" lengthAdjust="spacingAndGlyphs">t</text>
<text x="189.9" y="266.5" font-size="11.4" text-anchor="start" fill="#000" textLength="32.6" lengthAdjust="spacingAndGlyphs">[GeV]</text>
<text x="66.9" y="21.2" font-size="10.0" text-anchor="start" fill="#000" textLength="208.3" lengthAdjust="spacingAndGlyphs">experimental errors: LEP2/Tevatron (today)</text>
<line x1="66.9" y1="33.9" x2="97.9" y2="33.9" stroke="#0000ee" stroke-width="1.6"/>
<line x1="66.9" y1="50.2" x2="97.9" y2="50.2" stroke="#000" stroke-width="1.7"/>
<text x="105.2" y="37.6" font-size="10.3" text-anchor="start" fill="#000" textLength="39.0" lengthAdjust="spacingAndGlyphs">68% CL</text>
<text x="105.2" y="54.0" font-size="10.3" text-anchor="start" fill="#000" textLength="39.0" lengthAdjust="spacingAndGlyphs">95% CL</text>
<text x="69.6" y="202.8" font-size="12.4" text-anchor="start" fill="#ff0000" textLength="18.8" lengthAdjust="spacingAndGlyphs">SM</text>
<text x="281.0" y="105.0" font-size="11.3" text-anchor="start" fill="#00a000" textLength="38.0" lengthAdjust="spacingAndGlyphs">MSSM</text>
<g transform="translate(70.9,181.6) rotate(-12.8)"><text x="0" y="0" font-size="10.2" textLength="9.5" lengthAdjust="spacingAndGlyphs">M</text><text x="9.8" y="2.7" font-size="6.2" textLength="5" lengthAdjust="spacingAndGlyphs">H</text><text x="19.3" y="0" font-size="11.5" textLength="6" lengthAdjust="spacingAndGlyphs">≈</text><text x="28.0" y="0" font-size="10" textLength="41.5" lengthAdjust="spacingAndGlyphs">114 GeV</text></g>
<g transform="translate(77.2,213.8) rotate(-11.5)"><text x="0" y="0" font-size="10.2" textLength="9.5" lengthAdjust="spacingAndGlyphs">M</text><text x="9.8" y="2.7" font-size="6.2" textLength="5" lengthAdjust="spacingAndGlyphs">H</text><text x="19.3" y="0" font-size="11.5" textLength="6" lengthAdjust="spacingAndGlyphs">≈</text><text x="27.5" y="0" font-size="10" textLength="42.8" lengthAdjust="spacingAndGlyphs">400 GeV</text></g>
<g transform="translate(268.3,83.0) rotate(-9)"><text x="0" y="0" font-size="10.1" text-anchor="start" fill="#000" textLength="52.5" lengthAdjust="spacingAndGlyphs">light SUSY</text></g>
<g transform="translate(270.3,155.5) rotate(-12)"><text x="0" y="0" font-size="10.1" text-anchor="start" fill="#000" textLength="61.2" lengthAdjust="spacingAndGlyphs">heavy SUSY</text></g>
<text x="280.2" y="196.2" font-size="9.9" text-anchor="start" fill="#ff0000" textLength="16.2" lengthAdjust="spacingAndGlyphs">SM</text>
<text x="264.4" y="209.0" font-size="9.9" text-anchor="start" fill="#00a000" textLength="32.0" lengthAdjust="spacingAndGlyphs">MSSM</text>
<text x="237.5" y="221.9" font-size="9.9" text-anchor="start" fill="#0000ee" textLength="58.9" lengthAdjust="spacingAndGlyphs">both models</text>
<rect x="299.5" y="189.5" width="31.0" height="5.9" fill="#ffc0c0"/><g stroke="#ff7c7c" stroke-width="1"><line x1="305.50" y1="189.5" x2="305.50" y2="195.4"/><line x1="310.50" y1="189.5" x2="310.50" y2="195.4"/><line x1="315.50" y1="189.5" x2="315.50" y2="195.4"/><line x1="320.50" y1="189.5" x2="320.50" y2="195.4"/><line x1="325.50" y1="189.5" x2="325.50" y2="195.4"/></g><rect x="299.5" y="189.5" width="31.0" height="5.9" fill="none" stroke="#ff2020" stroke-width="1"/>
<rect x="299.5" y="202.6" width="31.0" height="5.9" fill="#c0ffc0"/><g stroke="#7cff7c" stroke-width="1"><line x1="305.50" y1="202.6" x2="305.50" y2="208.5"/><line x1="310.50" y1="202.6" x2="310.50" y2="208.5"/><line x1="315.50" y1="202.6" x2="315.50" y2="208.5"/><line x1="320.50" y1="202.6" x2="320.50" y2="208.5"/><line x1="325.50" y1="202.6" x2="325.50" y2="208.5"/></g><rect x="299.5" y="202.6" width="31.0" height="5.9" fill="none" stroke="#20ff20" stroke-width="1"/>
<line x1="301" y1="204.5" x2="330" y2="204.5" stroke="#fff" stroke-width="1" stroke-dasharray="1.3 0.3 2.1 1.3"/>
<rect x="299.5" y="215.5" width="31.0" height="5.9" fill="#c0c0ff"/><g stroke="#7c7cff" stroke-width="1"><line x1="305.50" y1="215.5" x2="305.50" y2="221.4"/><line x1="310.50" y1="215.5" x2="310.50" y2="221.4"/><line x1="315.50" y1="215.5" x2="315.50" y2="221.4"/><line x1="320.50" y1="215.5" x2="320.50" y2="221.4"/><line x1="325.50" y1="215.5" x2="325.50" y2="221.4"/></g><rect x="299.5" y="215.5" width="31.0" height="5.9" fill="none" stroke="#2020ff" stroke-width="1"/>
<text x="157.2" y="237.3" font-size="7.3" text-anchor="start" fill="#000" textLength="175.2" lengthAdjust="spacingAndGlyphs">Heinemeyer, Hollik, Stockinger, Weber, Weiglein '07</text>
</svg></body></html>
